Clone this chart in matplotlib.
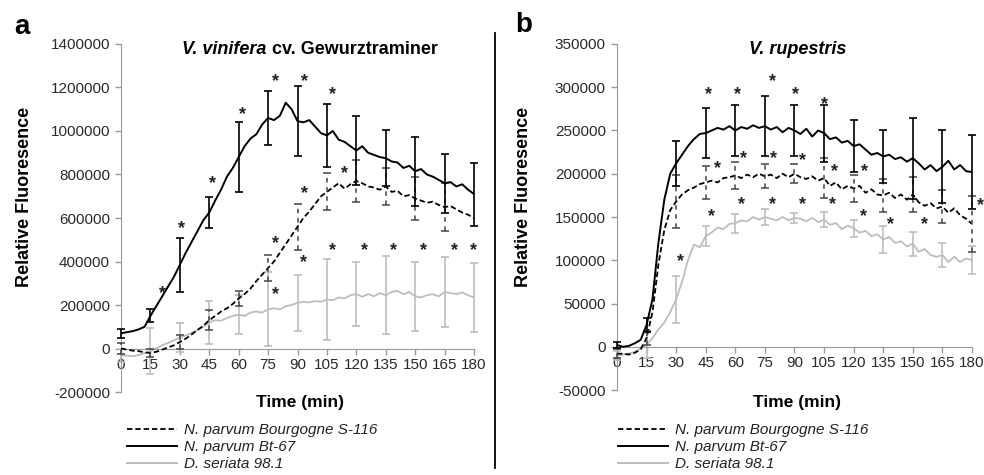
import numpy as np
import matplotlib
matplotlib.use('Agg')
import matplotlib.pyplot as plt
from matplotlib.ticker import FuncFormatter

plt.rcParams['font.family'] = ['Liberation Sans', 'DejaVu Sans']
plt.rcParams['axes.unicode_minus'] = False

# time grid (min) and the times that carry error bars
minutes = list(range(0, 181, 3))
bar_minutes = minutes[::5]

labels = ['N. parvum Bourgogne S-116', 'N. parvum Bt-67', 'D. seriata 98.1']

# ---- panel a : V. vinifera cv. Gewurztraminer (values x1000) ----
a_bourg = [0, -5, -10, -12, -18, -20, -15, -5, 5, 15, 30, 45, 65, 85, 105, 130,
           150, 170, 185, 205, 230, 250, 275, 310, 340, 370, 400, 440, 480, 520,
           560, 600, 630, 665, 700, 720, 740, 760, 735, 755, 770, 760, 745, 740,
           730, 745, 720, 725, 700, 705, 690, 680, 670, 675, 660, 650, 655, 640,
           625, 615, 600]
a_bt67 = [70, 75, 80, 88, 100, 150, 195, 240, 285, 330, 385, 440, 490, 540, 590,
          625, 680, 730, 790, 830, 880, 930, 965, 985, 1030, 1060, 1050, 1070,
          1130, 1100, 1045, 1040, 1050, 1020, 990, 980, 1000, 960, 950, 930, 910,
          930, 900, 890, 880, 875, 860, 855, 830, 840, 815, 825, 800, 790, 775,
          760, 765, 745, 755, 730, 710]
a_seri = [-30, -33, -35, -30, -22, -12, 0, 15, 25, 38, 50, 60, 72, 85, 100, 120,
          130, 128, 140, 150, 155, 150, 165, 170, 165, 180, 185, 180, 195, 200,
          210, 215, 212, 218, 215, 225, 222, 235, 230, 245, 250, 238, 250, 240,
          255, 245, 260, 265, 250, 260, 240, 235, 245, 250, 240, 260, 255, 250,
          258, 245, 235]
a_bourg_err = [25, 20, 30, 45, 35, 60, 105, 85, 95, 85, 100, 110, np.nan]
a_bt67_err = [20, 30, 125, 70, 160, 125, 160, 145, 160, 130, 158, 135, 145]
a_seri_err = [30, 105, 65, 100, 90, 170, 130, 185, 148, 180, 160, 160, 160]

a_star_bourg = [(78.6, 484), (93.4, 710), (114, 806)]
a_star_bt67 = [(21, 253), (30.6, 553), (46.4, 760), (62, 1074), (79, 1226),
               (93.4, 1226), (108, 1166)]
a_star_seri = [(78.6, 249), (93, 396), (108, 451), (124, 451), (139, 451),
               (154.5, 451), (170, 451), (179.5, 451)]

# ---- panel b : V. rupestris (values x1000) ----
b_bourg = [-8, -8, -9, -7, -3, 10, 40, 95, 135, 158, 168, 176, 181, 184, 188,
           190, 192, 190, 195, 196, 198, 195, 199, 196, 200, 197, 199, 195, 200,
           196, 200, 196, 194, 197, 192, 195, 186, 190, 182, 186, 183, 186, 178,
           182, 176, 175, 178, 172, 176, 170, 176, 167, 163, 166, 160, 162, 155,
           160, 152, 148, 142]
b_bt67 = [2, 0, 1, 4, 8, 25, 55, 120, 170, 200, 212, 222, 232, 240, 246, 247,
          250, 253, 251, 255, 250, 254, 252, 256, 253, 255, 251, 254, 248, 253,
          250, 246, 252, 243, 250, 247, 240, 242, 236, 238, 232, 234, 228, 222,
          224, 220, 222, 217, 219, 214, 218, 212, 205, 210, 203, 208, 215, 205,
          210, 203, 202]
b_seri = [-10, -9, -8, -6, -2, 2, 10, 20, 28, 40, 55, 75, 100, 118, 115, 128,
          132, 138, 136, 142, 143, 146, 145, 150, 147, 150, 148, 146, 150, 146,
          149, 148, 145, 149, 144, 147, 141, 143, 136, 140, 137, 132, 134, 128,
          130, 124, 127, 120, 122, 116, 119, 110, 113, 106, 104, 106, 98, 104,
          98, 102, 100]
b_bourg_err = [5, 8, 31, 19, 16, 14, 11, 23, 16, 19, 20, 19, 32]
b_bt67_err = [3, 8, 26, 29, 29, 35, 30, 33, 30, 31, 47, 42, 43]
b_seri_err = [5, 15, 27, 12, 11, 9, 6, 9, 10, 16, 14, 14, 16]

b_star_bourg = [(51.2, 206), (63.9, 217), (79.6, 217), (94.3, 215),
                (110.5, 202), (125.7, 202), (184.5, 163)]
b_star_bt67 = [(46.2, 292), (61, 292), (79, 306), (90.6, 292), (105.3, 280)]
b_star_seri = [(32.4, 98), (48, 150), (63, 164), (79, 164), (94, 164),
               (109.5, 164), (125, 151), (138.5, 141), (156, 141)]

GRAY = '#bdbdbd'
AXC = '#9a9a9a'


def draw_panel(ax, bourg, bt67, seri, errs, stars, ylim, step):
    k = 1000.0
    b = np.array(bourg) * k
    s = np.array(bt67) * k
    g = np.array(seri) * k
    ax.plot(minutes, g, color=GRAY, lw=1.3, zorder=2)
    ax.plot(minutes, b, color='black', lw=1.3, ls=(0, (3, 1.6)), zorder=3)
    ax.plot(minutes, s, color='black', lw=1.4, zorder=4)

    e = ax.errorbar(bar_minutes, g[::5], yerr=np.array(errs[2]) * k, fmt='none',
                    ecolor=GRAY, elinewidth=1.2, capsize=3, capthick=1.2, zorder=2)
    for art in e.get_children():
        art.set_clip_on(False)
    e = ax.errorbar(bar_minutes, b[::5], yerr=np.array(errs[0]) * k, fmt='none',
                    ecolor='#444444', elinewidth=1.1, capsize=3, capthick=1.1, zorder=3)
    e[2][0].set_linestyle((0, (3, 3)))
    for art in e.get_children():
        art.set_clip_on(False)
    e = ax.errorbar(bar_minutes, s[::5], yerr=np.array(errs[1]) * k, fmt='none',
                    ecolor='black', elinewidth=1.2, capsize=3, capthick=1.2, zorder=4)
    for art in e.get_children():
        art.set_clip_on(False)

    for group in stars:
        for tx, ty in group:
            ax.text(tx, ty * k, '*', ha='center', va='center', fontsize=13,
                    fontweight='bold', color='#222222', zorder=5)

    ax.set_xlim(0, 180)
    ax.set_ylim(*ylim)
    ax.set_xticks(range(0, 181, 15))
    ax.set_yticks(np.arange(ylim[0], ylim[1] + 1, step))
    ax.yaxis.set_major_formatter(FuncFormatter(lambda v, p: '%d' % v))
    for side in ['top', 'right']:
        ax.spines[side].set_visible(False)
    ax.spines['left'].set_color(AXC)
    ax.spines['bottom'].set_color(AXC)
    ax.spines['bottom'].set_position(('data', 0))
    ax.tick_params(axis='both', colors=AXC, labelcolor='#2a2a2a', labelsize=11,
                   length=4, width=1)
    ax.tick_params(axis='x', pad=3)
    ax.tick_params(axis='y', pad=4)


fig = plt.figure(figsize=(9.84, 4.75), dpi=100)
ax_a = fig.add_axes([0.1230, 0.1747, 0.3587, 0.7327])
ax_b = fig.add_axes([0.6270, 0.1789, 0.3608, 0.7285])

draw_panel(ax_a, a_bourg, a_bt67, a_seri, [a_bourg_err, a_bt67_err, a_seri_err],
           [a_star_bourg, a_star_bt67, a_star_seri], (-200000, 1400000), 200000)
draw_panel(ax_b, b_bourg, b_bt67, b_seri, [b_bourg_err, b_bt67_err, b_seri_err],
           [b_star_bourg, b_star_bt67, b_star_seri], (-50000, 350000), 50000)

# titles
ty = 1 - 49 / 475
t1 = fig.text(0, ty, 'V. vinifera', fontsize=13, fontweight='bold', style='italic', va='center')
t2 = fig.text(0, ty, ' cv. Gewurztraminer', fontsize=13, fontweight='bold', va='center')
fig.canvas.draw()
r = fig.canvas.get_renderer()
w1 = t1.get_window_extent(r).width
w2 = t2.get_window_extent(r).width
x0 = 310 - (w1 + w2) / 2
t1.set_x(x0 / 984)
t2.set_x((x0 + w1) / 984)
fig.text(798 / 984, ty, 'V. rupestris', fontsize=13, fontweight='bold', style='italic',
         ha='center', va='center')

# panel letters
fig.text(22 / 984, 1 - 27 / 475, 'a', fontsize=20, fontweight='bold', ha='center', va='center')
fig.text(524 / 984, 1 - 25 / 475, 'b', fontsize=20, fontweight='bold', ha='center', va='center')

# axis labels
for xl, xt in [(25, 300), (523, 797)]:
    fig.text(xl / 984, 1 - 197 / 475, 'Relative Fluoresence', rotation=90, fontsize=13,
             fontweight='bold', ha='center', va='center')
    fig.text(xt / 984, 1 - 403 / 475, 'Time (min)', fontsize=12.5, fontweight='bold',
             ha='center', va='center')

# divider
fig.add_artist(plt.Line2D([495 / 984, 495 / 984], [1 - 33 / 475, 1 - 468 / 475],
                          color='black', lw=1.3))

# legends
for ax, lx in [(ax_a, 127), (ax_b, 618)]:
    h1, = ax.plot([], [], color='black', lw=1.3, ls=(0, (3, 1.6)))
    h2, = ax.plot([], [], color='black', lw=1.4)
    h3, = ax.plot([], [], color=GRAY, lw=1.4)
    leg = ax.legend([h1, h2, h3], labels, loc='upper left',
                    bbox_to_anchor=(lx / 984, 1 - 423 / 475), bbox_transform=fig.transFigure,
                    frameon=False, borderpad=0, borderaxespad=0, handlelength=3.3,
                    handletextpad=0.4, labelspacing=0.2,
                    prop={'size': 11, 'style': 'italic'})
    for txt in leg.get_texts():
        txt.set_color('#222222')

fig.savefig('out.png', dpi=100)
